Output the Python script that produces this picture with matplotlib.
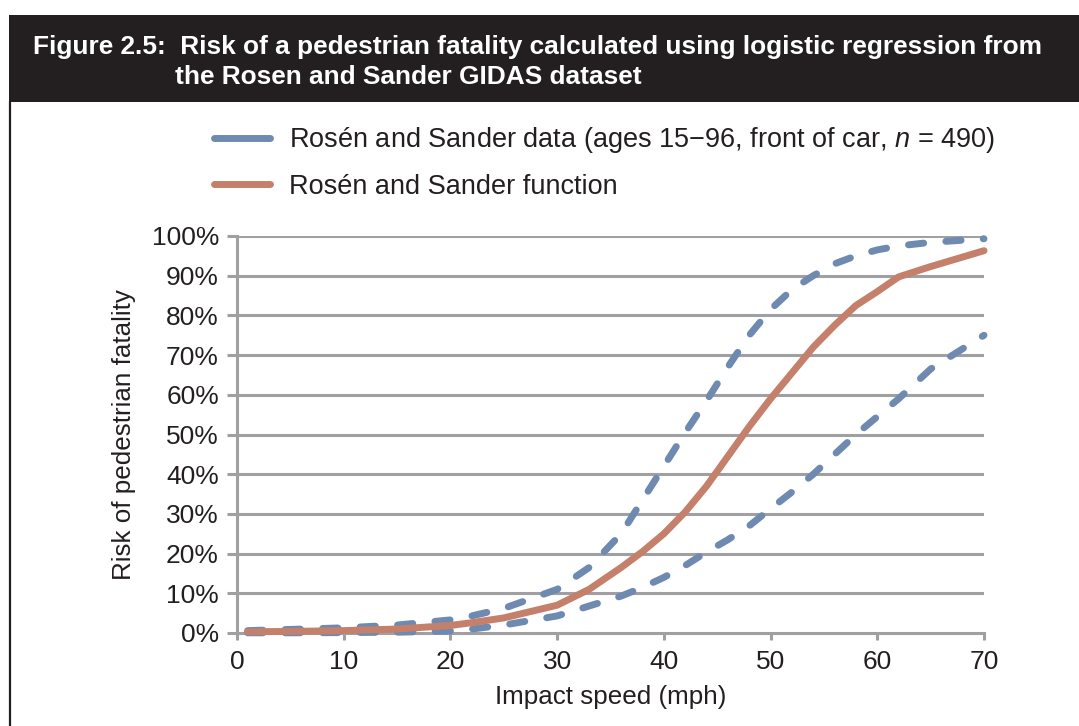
import matplotlib
matplotlib.use("Agg")
import matplotlib.pyplot as plt
from matplotlib.lines import Line2D
from matplotlib.patches import Rectangle

plt.rcParams['font.family'] = ['Liberation Sans', 'DejaVu Sans']
plt.rcParams['mathtext.fontset'] = 'custom'
plt.rcParams['mathtext.rm'] = 'Liberation Sans'
plt.rcParams['mathtext.it'] = 'Liberation Sans:italic'

# ---- data ----
speed = [1, 5, 10, 15, 20, 22, 25, 30, 33, 36, 38, 40, 42, 44, 46, 48, 50, 52, 54, 56, 58, 60, 62, 65, 70]
upper = [0.6, 0.9, 1.3, 2.0, 3.3, 4.3, 6.2, 11, 16.5, 25, 33.5, 42, 50.5, 58.5, 67, 75, 81.5, 86.5, 90, 93, 95, 96.5, 97.5, 98.4, 99.3]
lower = [0.05, 0.05, 0.1, 0.2, 0.5, 1.0, 2.0, 4.3, 6.8, 9.3, 11.5, 14, 17, 20.4, 23.5, 27, 31.3, 35.5, 40, 45, 50, 54.5, 59, 66.5, 75]
func = [0.3, 0.4, 0.6, 1.0, 1.9, 2.6, 3.8, 7, 11, 16.5, 20.5, 25, 30.5, 37, 44.5, 52, 59, 65.5, 72, 77.5, 82.5, 86, 89.7, 92.3, 96.3]
yticks = list(range(0, 101, 10))
ytick_labels = [f"{v}%" for v in yticks]
xticks = list(range(0, 71, 10))

title = "Figure 2.5:  Risk of a pedestrian fatality calculated using logistic regression from"
title2 = "the Rosen and Sander GIDAS dataset"
label_data = "Rosén and Sander data (ages 15\u221296, front of car, $n$ = 490)"
label_func = "Rosén and Sander function"

blue = '#6F8AB0'
orange = '#C4806A'
grid = '#A0A0A2'
ink = '#231F20'
W, H = 1079, 726

fig = plt.figure(figsize=(W / 100, H / 100), dpi=100)
fig.patch.set_facecolor('white')

# title bar
fig.patches.append(Rectangle((9 / W, 1 - 102 / H), 1 - 9 / W, (102 - 15) / H,
                             transform=fig.transFigure, facecolor=ink, edgecolor='none'))
fig.lines.append(Line2D([10 / W, 10 / W], [0, 1 - 102 / H], transform=fig.transFigure,
                        color=ink, lw=1.6))
fig.text(33 / W, 1 - 47 / H, title, color='white', fontsize=18.9, fontweight='bold', va='center')
fig.text(175 / W, 1 - 77 / H, title2, color='white', fontsize=18.9, fontweight='bold', va='center')

ax = fig.add_axes([237 / W, 1 - 633 / H, (984 - 237) / W, (633 - 236) / H])
ax.set_xlim(0, 70)
ax.set_ylim(0, 100)
for y in yticks[1:]:
    ax.axhline(y, color=grid, lw=2.2, zorder=1)
dash_kw = dict(color=blue, lw=5, dashes=(2.2, 3.2), dash_capstyle='round', zorder=3, clip_on=False)
ax.plot(speed, upper, **dash_kw)
ax.plot(speed, lower, **dash_kw)
ax.plot(speed, func, color=orange, lw=5, solid_capstyle='round', zorder=4, clip_on=False)

for s in ['top', 'right']:
    ax.spines[s].set_visible(False)
for s in ['left', 'bottom']:
    ax.spines[s].set_color(grid)
    ax.spines[s].set_linewidth(2.2)
ax.set_yticks(yticks)
ax.set_yticklabels(ytick_labels)
ax.set_xticks(xticks)
ax.tick_params(axis='y', length=7, width=2.2, color=grid, labelsize=19, pad=6, labelcolor=ink)
ax.tick_params(axis='x', length=5, width=2.2, color=grid, labelsize=19, pad=7, labelcolor=ink)
ax.set_ylabel("Risk of pedestrian fatality", fontsize=18.7, color=ink, labelpad=11.5)
ax.set_xlabel("Impact speed (mph)", fontsize=18.7, color=ink, labelpad=8)

handles = [Line2D([], [], color=blue, lw=5, linestyle='-', solid_capstyle='round'),
           Line2D([], [], color=orange, lw=5, linestyle='-', solid_capstyle='round')]
fig.legend(handles, [label_data, label_func], loc='upper left',
           bbox_to_anchor=(190 / W, 1 - 101 / H), frameon=False, fontsize=19.5,
           handlelength=2.07, handletextpad=0.67, labelspacing=0.68, labelcolor=ink)

fig.savefig('out.png', dpi=100, facecolor='white')
